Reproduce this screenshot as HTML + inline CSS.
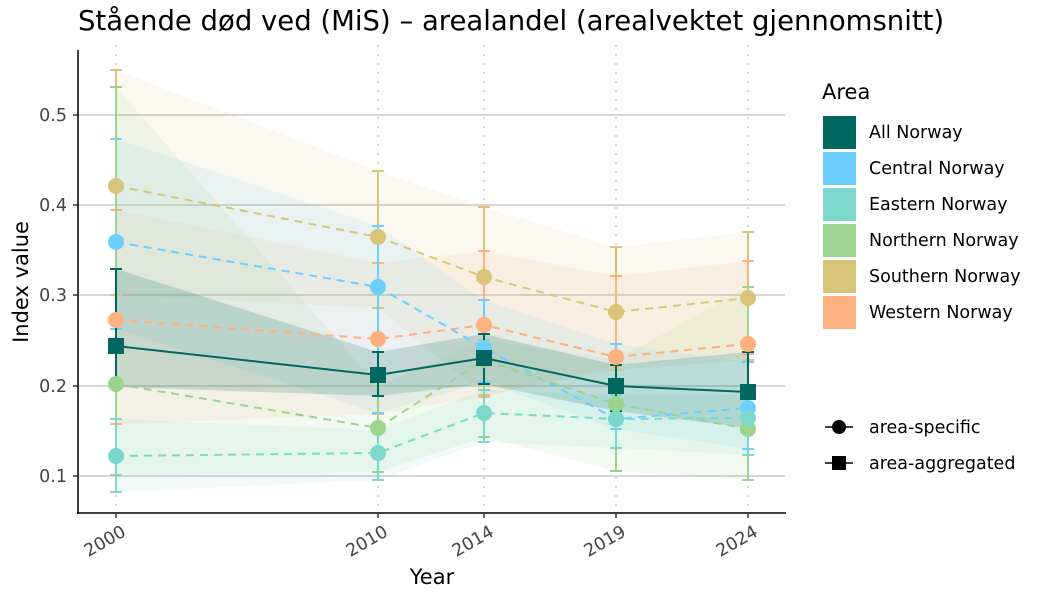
<!DOCTYPE html>
<html><head><meta charset="utf-8"><style>
body{margin:0;background:#fff;}
svg{font-family:"DejaVu Sans","Liberation Sans",sans-serif;display:block}
</style></head><body>
<svg id="s" width="1050" height="600" xmlns="http://www.w3.org/2000/svg">
<rect width="1050" height="600" fill="#fff"/>
<text x="78" y="30" font-size="27.5" fill="#000">Stående død ved (MiS) – arealandel (arealvektet gjennomsnitt)</text>
<g stroke="#c8c8c8" stroke-width="1.5">
<line x1="78" x2="785" y1="115" y2="115"/><line x1="78" x2="785" y1="205" y2="205"/>
<line x1="78" x2="785" y1="295" y2="295"/><line x1="78" x2="785" y1="386" y2="386"/>
<line x1="78" x2="785" y1="476" y2="476"/>
</g>
<g stroke="#c8c8c8" stroke-width="1.5" stroke-dasharray="2,7">
<line x1="116" x2="116" y1="45" y2="513"/><line x1="378" x2="378" y1="45" y2="513"/>
<line x1="484" x2="484" y1="45" y2="513"/><line x1="616" x2="616" y1="45" y2="513"/>
<line x1="748" x2="748" y1="45" y2="513"/>
</g>
<g id="data"></g>
<g stroke="#000" stroke-width="1.5"><line x1="78" y1="50" x2="78" y2="514"/><line x1="77" y1="513" x2="786" y2="513"/></g>
<g stroke="#333" stroke-width="1.5">
<line x1="116" x2="116" y1="513" y2="518"/><line x1="378" x2="378" y1="513" y2="518"/><line x1="484" x2="484" y1="513" y2="518"/><line x1="616" x2="616" y1="513" y2="518"/><line x1="748" x2="748" y1="513" y2="518"/>
<line x1="73" x2="78" y1="115" y2="115"/><line x1="73" x2="78" y1="205" y2="205"/><line x1="73" x2="78" y1="295" y2="295"/><line x1="73" x2="78" y1="386" y2="386"/><line x1="73" x2="78" y1="476" y2="476"/>
</g>
<g font-size="17.5" fill="#444" text-anchor="end">
<text x="67" y="121">0.5</text><text x="67" y="211">0.4</text><text x="67" y="301">0.3</text><text x="67" y="392">0.2</text><text x="67" y="482">0.1</text>
<text transform="translate(127,535) rotate(-30)">2000</text>
<text transform="translate(389,535) rotate(-30)">2010</text>
<text transform="translate(495,535) rotate(-30)">2014</text>
<text transform="translate(627,535) rotate(-30)">2019</text>
<text transform="translate(759,535) rotate(-30)">2024</text>
</g>
<text x="432" y="584" font-size="21" text-anchor="middle">Year</text>
<text transform="translate(28,282) rotate(-90)" font-size="21" text-anchor="middle">Index value</text>
<text x="822" y="99" font-size="21">Area</text>
<g font-size="17.5" fill="#000">
<rect x="823" y="116" width="33" height="33" fill="#006861"/><text x="869" y="138">All Norway</text>
<rect x="823" y="152" width="33" height="33" fill="#6dcfff"/><text x="869" y="174">Central Norway</text>
<rect x="823" y="188" width="33" height="33" fill="#7dd8cc"/><text x="869" y="210">Eastern Norway</text>
<rect x="823" y="224" width="33" height="33" fill="#9ad48f"/><text x="869" y="246">Northern Norway</text>
<rect x="823" y="260" width="33" height="33" fill="#d9c57a"/><text x="869" y="282">Southern Norway</text>
<rect x="823" y="296" width="33" height="33" fill="#ffb07f"/><text x="869" y="318">Western Norway</text>
<line x1="825" x2="853" y1="427" y2="427" stroke="#000" stroke-width="1.5"/><circle cx="839" cy="427" r="7" fill="#000"/><text x="869" y="433">area-specific</text>
<line x1="825" x2="853" y1="463" y2="463" stroke="#000" stroke-width="1.5"/><rect x="832" y="456" width="14" height="14" fill="#000"/><text x="869" y="469">area-aggregated</text>
</g>
</svg>
<script>
var X=[116,378,484,616,748];
var S=[
{c:"#d9c57a",p:[186,237,277,312,298],ci:[[70,295],[171,308],[207,395],[247,370],[232,360]]},
{c:"#ffb07f",p:[320,339,325,357,344],ci:[[210,424],[263,414],[251,397],[276,366],[261,354]]},
{c:"#6dcfff",p:[242,287,348,419,408],ci:[[139,329],[226,413],[300,382],[344,429],[362,449]]},
{c:"#9ad48f",p:[384,428,360,404,429],ci:[[87,475],[386,472],[340,437],[360,471],[287,480]]},
{c:"#7dd8cc",p:[456,453,413,419,418],ci:[[419,492],[430,480],[390,442],[395,448],[395,455]]},
{c:"#006861",p:[346,375,358,386,392],ci:[[269,387],[352,396],[334,384],[365,411],[352,428]],sq:1}
];
var h="";
S.forEach(function(s){var up=[],lo=[];for(var i=0;i<5;i++){up.push(X[i]+","+s.ci[i][0]);lo.unshift(X[i]+","+s.ci[i][1]);}
h+='<polygon points="'+up.concat(lo).join(" ")+'" fill="'+s.c+'" fill-opacity="'+(s.sq?0.18:0.12)+'"/>';});
S.forEach(function(s){for(var i=0;i<5;i++){var x=X[i],a=s.ci[i][0],b=s.ci[i][1];
h+='<g stroke="'+s.c+'" stroke-width="2"><line x1="'+x+'" x2="'+x+'" y1="'+a+'" y2="'+b+'"/><line x1="'+(x-6)+'" x2="'+(x+6)+'" y1="'+a+'" y2="'+a+'"/><line x1="'+(x-6)+'" x2="'+(x+6)+'" y1="'+b+'" y2="'+b+'"/></g>';}});
S.forEach(function(s){var pts=[];for(var i=0;i<5;i++)pts.push(X[i]+","+s.p[i]);
h+='<polyline points="'+pts.join(" ")+'" fill="none" stroke="'+s.c+'" stroke-width="2"'+(s.sq?'':' stroke-dasharray="8,6"')+'/>';
for(var i=0;i<5;i++){if(s.sq)h+='<rect x="'+(X[i]-8)+'" y="'+(s.p[i]-8)+'" width="16" height="16" fill="'+s.c+'"/>';else h+='<circle cx="'+X[i]+'" cy="'+s.p[i]+'" r="8" fill="'+s.c+'"/>';}});
document.getElementById("data").innerHTML=h;
</script>
</body></html>
